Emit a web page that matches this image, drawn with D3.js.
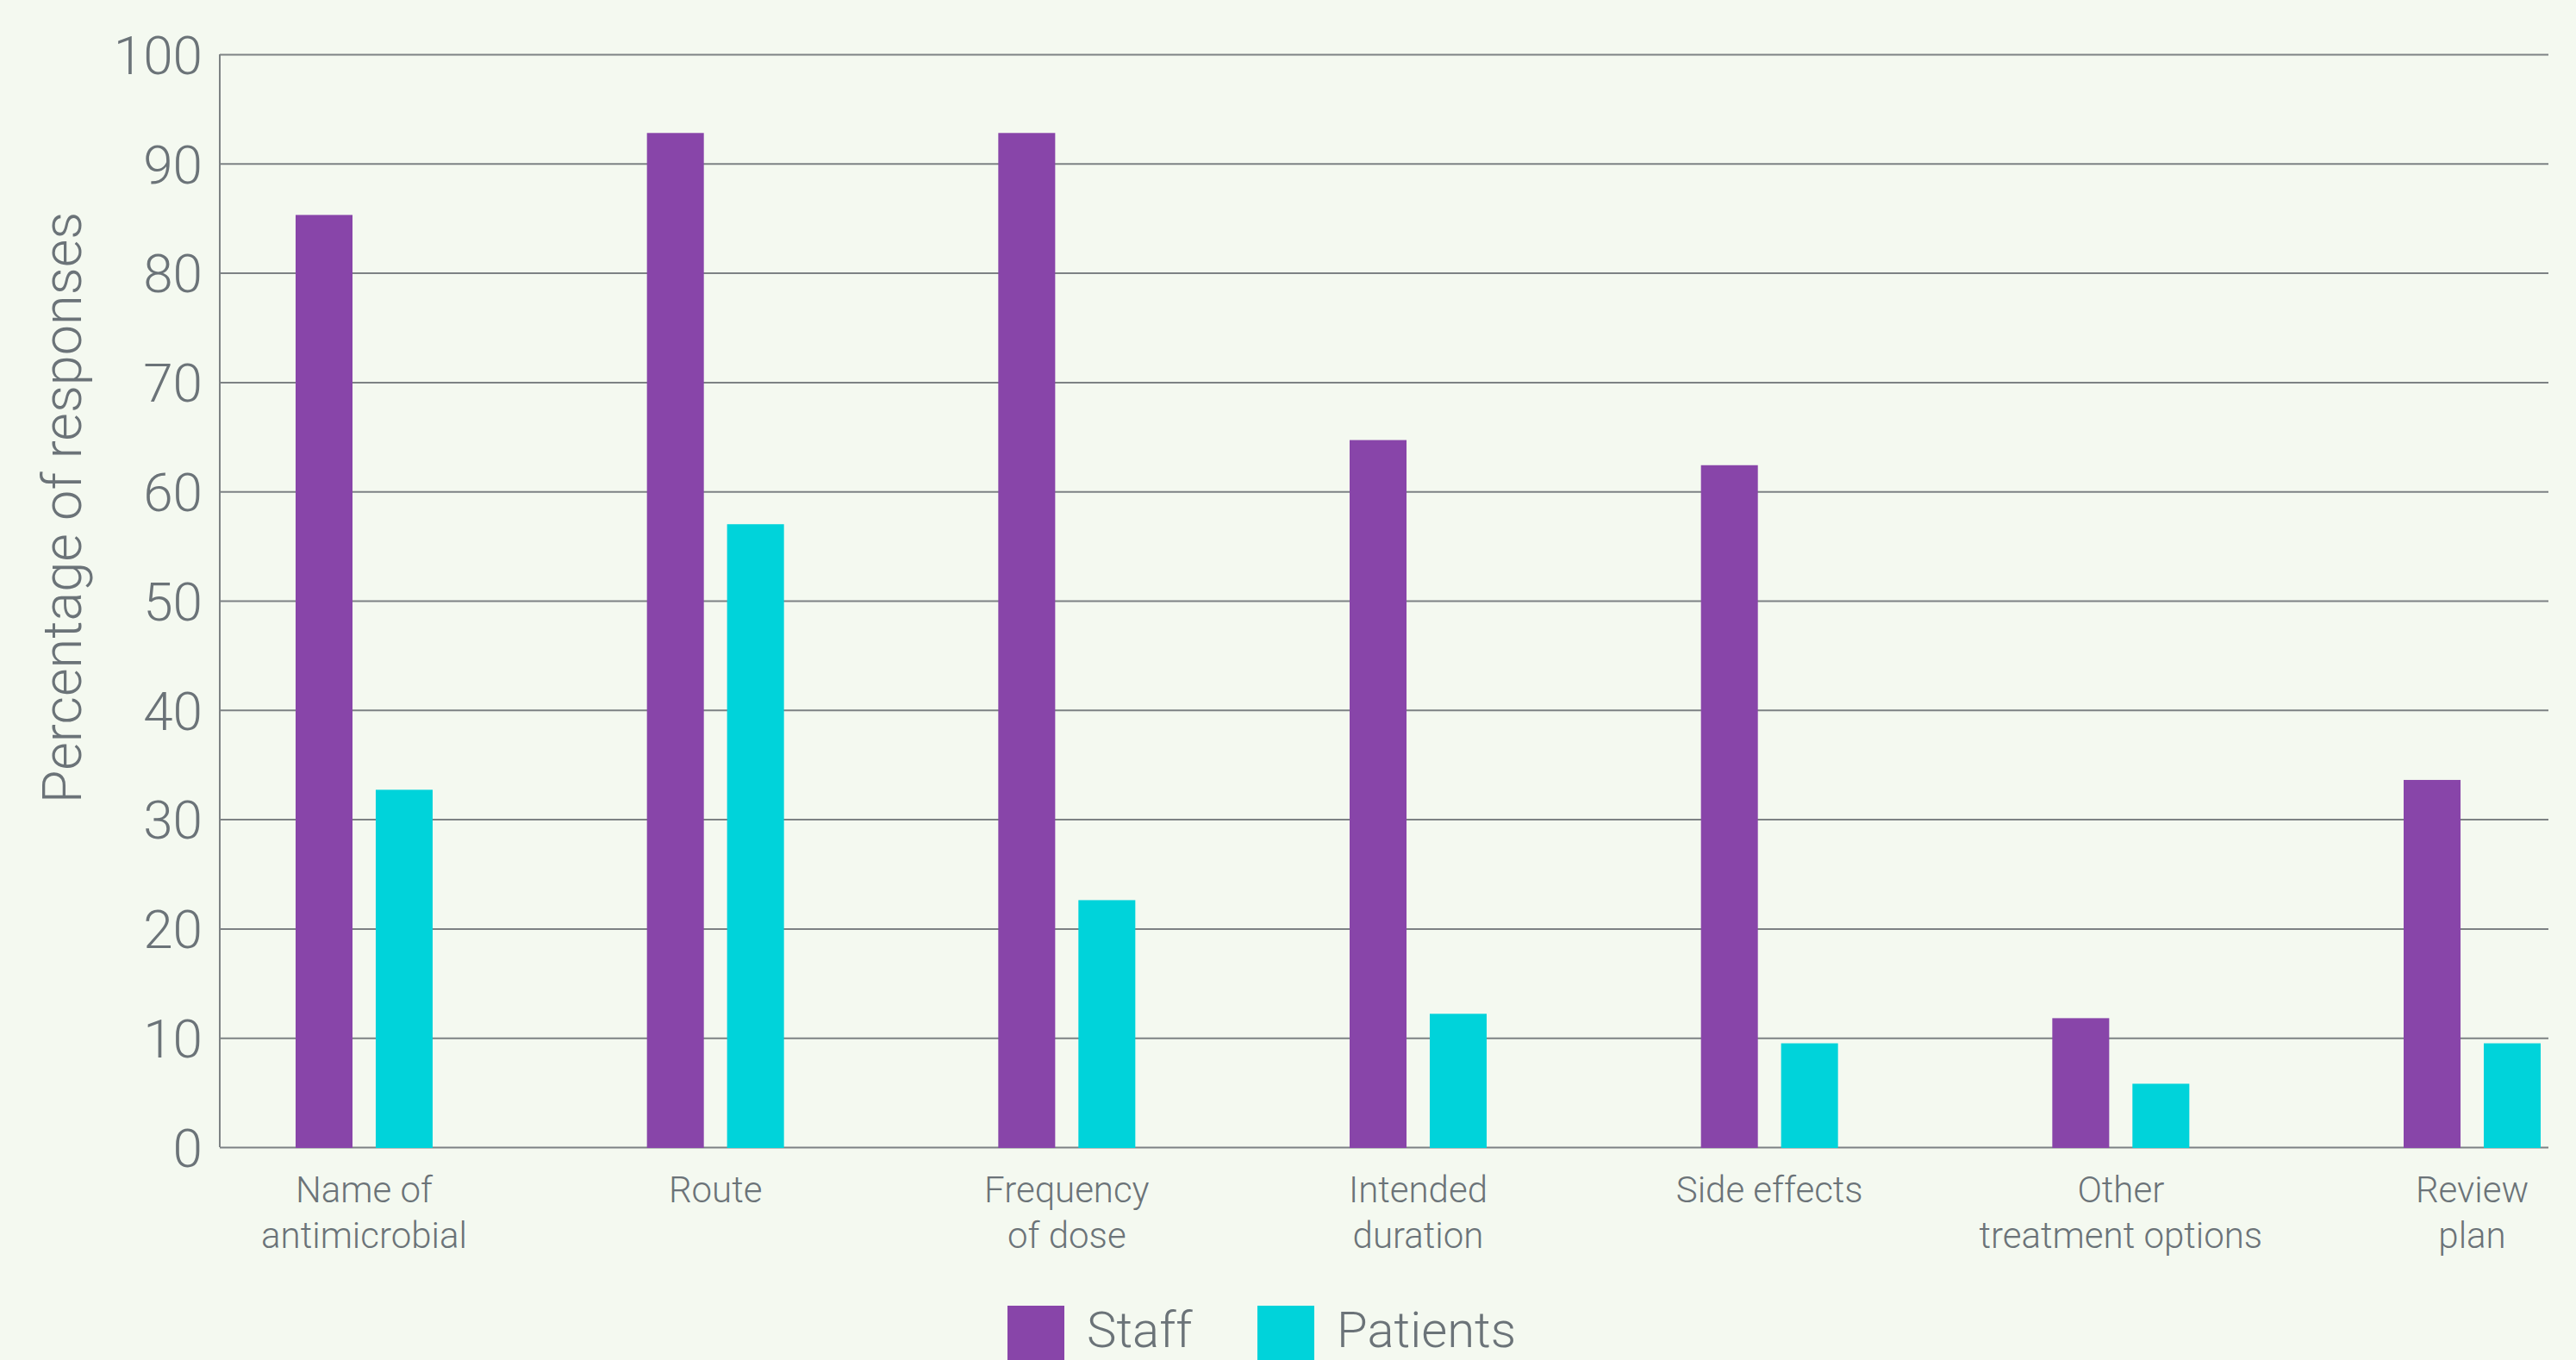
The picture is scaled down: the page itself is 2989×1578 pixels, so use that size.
<!DOCTYPE html>
<html lang="en">
<head>
    <meta charset="UTF-8">
    <title>Percentage of responses</title>
    <script src="https://d3js.org/d3.v7.min.js"></script>
    <style>
        html, body { margin: 0; padding: 0; background: #f4f9f0; }
        svg { display: block; }
        text { font-family: "Helvetica Neue", Roboto, "Liberation Sans", Arial, sans-serif; font-weight: 300; fill: #6b7378; }
        .grid line { stroke: #7d8284; stroke-width: 2px; }
        .axis-line { stroke: #7d8284; stroke-width: 2px; }
    </style>
</head>
<body>
    <div id="chart"></div>
    <script>
        // Data
        const categories = [
            ["Name of", "antimicrobial"],
            ["Route"],
            ["Frequency", "of dose"],
            ["Intended", "duration"],
            ["Side effects"],
            ["Other", "treatment options"],
            ["Review", "plan"]
        ];
        const seriesNames = ["Staff", "Patients"];
        const staffValues = [85.3, 92.8, 92.8, 64.7, 62.4, 11.8, 33.6];
        const patientValues = [32.7, 57.0, 22.6, 12.2, 9.5, 5.8, 9.5];
        const yTicks = [0, 10, 20, 30, 40, 50, 60, 70, 80, 90, 100];
        const colors = ["#8845a9", "#00d3da"];

        const W = 2989, H = 1578;
        const margin = { top: 63, right: 32, bottom: 247, left: 255 };
        const width = W - margin.left - margin.right;
        const height = H - margin.top - margin.bottom;

        const svg = d3.select("#chart").append("svg")
            .attr("width", W)
            .attr("height", H);

        const g = svg.append("g")
            .attr("transform", `translate(${margin.left},${margin.top})`);

        const keys = categories.map((c, i) => i);
        const x = d3.scaleBand()
            .domain(keys)
            .range([88, 2693])
            .paddingInner(0.61)
            .paddingOuter(0);

        const xs = d3.scaleBand()
            .domain(seriesNames)
            .range([0, x.bandwidth()])
            .paddingInner(0.29);

        const y = d3.scaleLinear().domain([0, 100]).range([height, 0]);

        // gridlines + tick labels
        const yAxis = g.append("g")
            .attr("class", "grid")
            .call(d3.axisLeft(y).tickValues(yTicks).tickSize(-width).tickPadding(20));
        yAxis.select(".domain").remove();
        yAxis.selectAll("text")
            .attr("x", -20)
            .attr("dy", "0.36em")
            .style("font-size", "62px")
            .style("fill", "#6b7378");

        g.append("line")
            .attr("class", "axis-line")
            .attr("x1", 0).attr("x2", 0)
            .attr("y1", y(100)).attr("y2", y(0));

        // bars
        const rows = keys.map(i => ({ i, values: [staffValues[i], patientValues[i]] }));
        const groups = g.selectAll(".cat")
            .data(rows)
            .enter().append("g")
            .attr("transform", d => `translate(${x(d.i)},0)`);

        groups.selectAll("rect")
            .data(d => d.values.map((v, k) => ({ k, v })))
            .enter().append("rect")
            .attr("x", d => xs(seriesNames[d.k]))
            .attr("width", xs.bandwidth())
            .attr("y", d => y(d.v))
            .attr("height", d => y(0) - y(d.v) + 1)
            .attr("fill", d => colors[d.k]);

        // category labels
        const labels = g.selectAll(".xlabel")
            .data(rows)
            .enter().append("text")
            .attr("text-anchor", "middle")
            .style("font-size", "42px")
            .attr("transform", d => `translate(${x(d.i) + x.bandwidth() / 2},${height + 64})`);
        labels.selectAll("tspan")
            .data(d => categories[d.i])
            .enter().append("tspan")
            .attr("x", 0)
            .attr("y", (d, j) => j * 53)
            .text(d => d);

        // y axis title
        svg.append("text")
            .attr("transform", `translate(72,589) rotate(-90)`)
            .attr("text-anchor", "middle")
            .attr("dy", "0.35em")
            .style("font-size", "63px")
            .text("Percentage of responses");

        // legend
        const legendX = [1169, 1459];
        const legend = svg.selectAll(".legend")
            .data(seriesNames)
            .enter().append("g")
            .attr("transform", (d, i) => `translate(${legendX[i]},1515)`);
        legend.append("rect")
            .attr("width", 66).attr("height", 66)
            .attr("fill", (d, i) => colors[i]);
        legend.append("text")
            .attr("x", 92)
            .attr("y", 48)
            .style("font-size", "58px")
            .text(d => d);
    </script>
</body>
</html>
